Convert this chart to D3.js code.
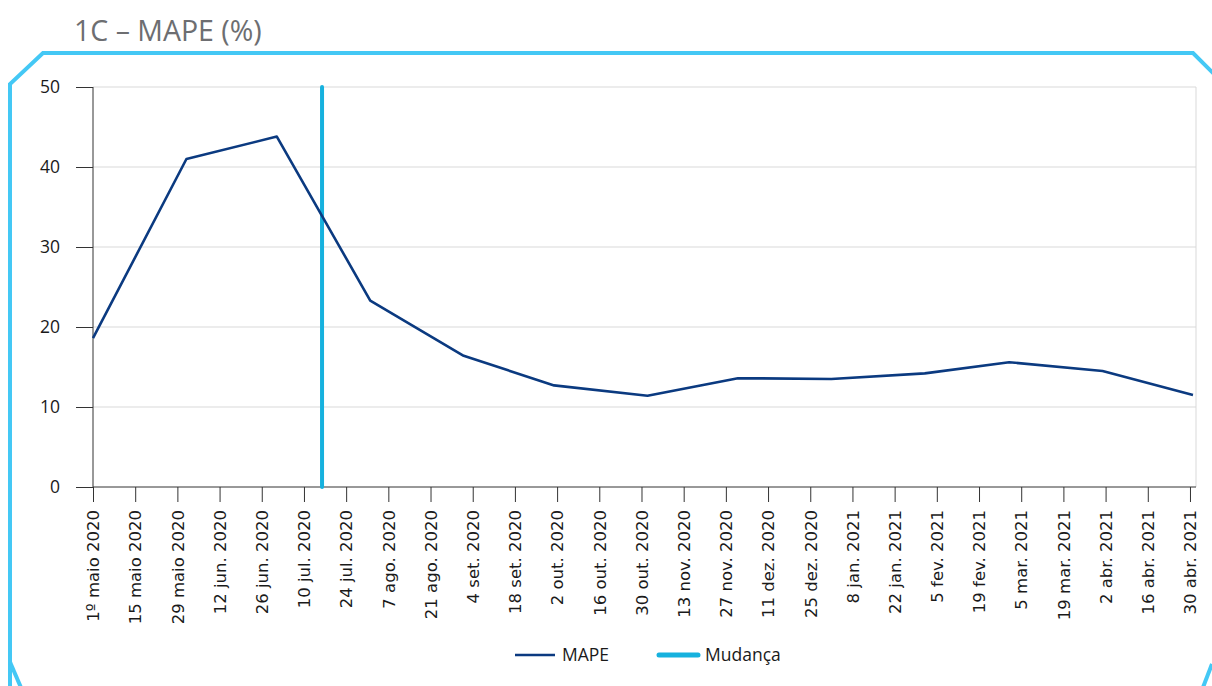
<!DOCTYPE html>
<html>
<head>
<meta charset="utf-8">
<script src="https://cdn.jsdelivr.net/npm/d3@7"></script>
<style>
  body { margin: 0; background: #fff; }
</style>
</head>
<body>
<div id="chart"></div>
<script>
// monthly MAPE values (%)
const dates = ["2020-05-01", "2020-06-01", "2020-07-01", "2020-08-01", "2020-09-01", "2020-10-01",
    "2020-11-01", "2020-12-01", "2021-01-01", "2021-02-01", "2021-03-01", "2021-04-01", "2021-05-01"];
const mape = [18.6, 41.0, 43.8, 23.3, 16.4, 12.7, 11.4, 13.6, 13.5, 14.2, 15.6, 14.5, 11.5];

// date of the change (Mudança)
const changeDate = "2020-07-16";

const tickDates = ["2020-05-01", "2020-05-15", "2020-05-29", "2020-06-12", "2020-06-26", "2020-07-10",
    "2020-07-24", "2020-08-07", "2020-08-21", "2020-09-04", "2020-09-18", "2020-10-02", "2020-10-16",
    "2020-10-30", "2020-11-13", "2020-11-27", "2020-12-11", "2020-12-25", "2021-01-08", "2021-01-22",
    "2021-02-05", "2021-02-19", "2021-03-05", "2021-03-19", "2021-04-02", "2021-04-16", "2021-04-30"];
const tickLabels = ["1º maio 2020", "15 maio 2020", "29 maio 2020", "12 jun. 2020", "26 jun. 2020",
    "10 jul. 2020", "24 jul. 2020", "7 ago. 2020", "21 ago. 2020", "4 set. 2020", "18 set. 2020",
    "2 out. 2020", "16 out. 2020", "30 out. 2020", "13 nov. 2020", "27 nov. 2020", "11 dez. 2020",
    "25 dez. 2020", "8 jan. 2021", "22 jan. 2021", "5 fev. 2021", "19 fev. 2021", "5 mar. 2021",
    "19 mar. 2021", "2 abr. 2021", "16 abr. 2021", "30 abr. 2021"];
const yTicks = [0, 10, 20, 30, 40, 50];

const W = 1212, H = 686;
const margin = { top: 87, right: 16, bottom: 199, left: 93 };
const width = W - margin.left - margin.right;
const height = H - margin.top - margin.bottom;

const parse = d3.utcParse("%Y-%m-%d");
const navy = "#0b3a80";
const cyan = "#16b1de";

const svg = d3.select("#chart")
    .append("svg")
    .attr("width", W)
    .attr("height", H);

// title
svg.append("text")
    .attr("x", 74)
    .attr("y", 41)
    .attr("font-family", "Open Sans")
    .attr("font-size", 28.5)
    .attr("fill", "#6d6e71")
    .text("1C – MAPE (%)");

// frame with cut corners
svg.append("path")
    .attr("d", "M10,700 L10,84 L43,53 L1193,53 L1214,74")
    .attr("fill", "none")
    .attr("stroke", "#44c8f5")
    .attr("stroke-width", 4);
svg.append("path")
    .attr("d", "M10,662 L22,690")
    .attr("fill", "none")
    .attr("stroke", "#44c8f5")
    .attr("stroke-width", 4);
svg.append("path")
    .attr("d", "M1212,664 L1202,690")
    .attr("fill", "none")
    .attr("stroke", "#44c8f5")
    .attr("stroke-width", 4);

const g = svg.append("g")
    .attr("transform", `translate(${margin.left},${margin.top})`);

const x = d3.scaleUtc()
    .domain([parse("2020-05-01"), parse("2021-05-02")])
    .range([0, width]);

const y = d3.scaleLinear()
    .domain([0, 50])
    .range([height, 0]);

// gridlines
g.selectAll(".grid")
    .data(yTicks.filter(d => d > 0))
    .join("line")
    .attr("x1", 0)
    .attr("x2", width)
    .attr("y1", d => y(d))
    .attr("y2", d => y(d))
    .attr("stroke", "#d9d9d9")
    .attr("stroke-width", 1);

g.append("line")
    .attr("x1", width)
    .attr("x2", width)
    .attr("y1", 0)
    .attr("y2", height)
    .attr("stroke", "#d9d9d9");

// y axis
const yAxis = g.append("g")
    .call(d3.axisLeft(y).tickValues(yTicks).tickSize(17).tickPadding(16));
yAxis.select(".domain").attr("stroke", "#333").attr("d", `M0,${height}V0`);
yAxis.selectAll(".tick line").attr("stroke", "#333");
yAxis.selectAll("text")
    .attr("font-family", "Open Sans")
    .attr("font-size", 17.5)
    .attr("fill", "#1a1a1a");

// x axis
const labelOf = d3.index(tickDates.map((d, i) => ({ d: +parse(d), l: tickLabels[i] })), o => o.d);
const xAxis = g.append("g")
    .attr("transform", `translate(0,${height})`)
    .call(d3.axisBottom(x)
        .tickValues(tickDates.map(parse))
        .tickSize(15)
        .tickFormat(d => labelOf.get(+d).l));
xAxis.select(".domain").attr("stroke", "#333").attr("d", `M0,0H${width}`);
xAxis.selectAll(".tick line").attr("stroke", "#333");
xAxis.selectAll("text")
    .attr("font-family", "DejaVu Sans")
    .attr("font-size", 16.5)
    .attr("fill", "#1a1a1a")
    .attr("text-anchor", "end")
    .attr("dy", "0.35em")
    .attr("transform", "translate(0,23) rotate(-90)")
    .attr("x", 0)
    .attr("y", 0);

// change line
g.append("line")
    .attr("x1", x(parse(changeDate)))
    .attr("x2", x(parse(changeDate)))
    .attr("y1", y(50))
    .attr("y2", y(0))
    .attr("stroke", cyan)
    .attr("stroke-width", 4)
    .attr("stroke-linecap", "round");

// MAPE line
const series = dates.map((d, i) => ({ date: parse(d), value: mape[i] }));
g.append("path")
    .datum(series)
    .attr("fill", "none")
    .attr("stroke", navy)
    .attr("stroke-width", 2.6)
    .attr("stroke-linejoin", "round")
    .attr("d", d3.line().x(d => x(d.date)).y(d => y(d.value)));

// legend
const legend = svg.append("g")
    .attr("font-family", "Open Sans")
    .attr("font-size", 17.5)
    .attr("fill", "#1a1a1a");
const legendItems = [
    { name: "MAPE", color: navy, w: 2.6, x: 515, len: 40 },
    { name: "Mudança", color: cyan, w: 5, x: 659, len: 39 }
];
legendItems.forEach(it => {
    legend.append("line")
        .attr("x1", it.x).attr("x2", it.x + it.len)
        .attr("y1", 655).attr("y2", 655)
        .attr("stroke", it.color)
        .attr("stroke-width", it.w)
        .attr("stroke-linecap", it.w > 3 ? "round" : "butt");
    legend.append("text")
        .attr("x", it.x + it.len + 7)
        .attr("y", 661)
        .text(it.name);
});
</script>
</body>
</html>
